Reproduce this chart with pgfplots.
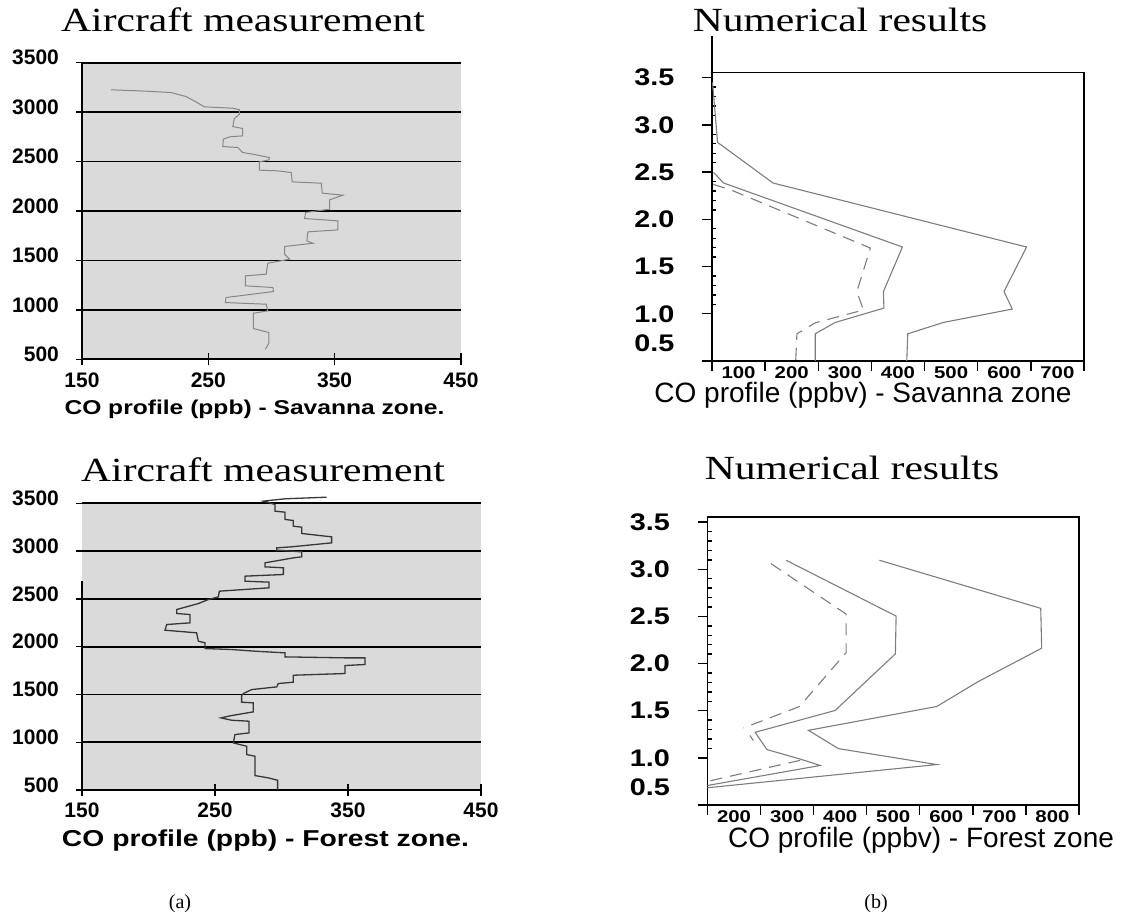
\documentclass[border=0pt]{standalone}
\usepackage{fontspec}
\setmainfont{Liberation Serif}
\newfontfamily\arial{Liberation Sans}
\usepackage{pgfplots}
\pgfplotsset{compat=1.18}
\definecolor{bggrey}{RGB}{218,218,218}
\definecolor{curvegrey}{RGB}{125,125,125}
\definecolor{stepgrey}{RGB}{135,135,135}
\definecolor{stepdark}{RGB}{55,55,55}

\pgfplotsset{
  leftpanel/.style={
    scale only axis, anchor=south west,
    xmin=150, xmax=450, ymin=500, ymax=3500,
    axis background/.style={fill=bggrey},
    axis x line=bottom, axis y line=left,
    axis line style={-, black, line width=0.8pt},
    xtick={150,250,350,450}, xticklabels={150,250,350,450},
    ytick={500,1000,1500,2000,2500,3000,3500},
    yticklabels={500,1000,1500,2000,2500,3000,3500},
    ymajorgrids, grid style={black, line width=0.9pt},
    tick align=center, major tick length=6pt,
    tick style={black, line width=0.7pt},
    ticklabel style={font=\arial\bfseries\fontsize{10.5pt}{12pt}\selectfont},
    yticklabel style={xshift=-5pt, yshift=2.5pt},
    clip=false,
  },
  rightpanel/.style={
    scale only axis, anchor=south west,
    ymin=0.5, ymax=3.555,
    axis line style={black, line width=0.9pt},
    xtick pos=left, ytick pos=left,
    tick align=outside, major tick length=5pt, minor tick length=2pt,
    ytick={1,1.5,2,2.5,3,3.5}, yticklabels={1.0,1.5,2.0,2.5,3.0,3.5},
    minor y tick num=4,
    minor y tick style={xshift=2pt},
    tick style={black, line width=0.7pt},
    yticklabel style={font=\arial\bfseries\fontsize{12pt}{14pt}\selectfont, xscale=1.2, xshift=-8pt},
    xticklabel style={font=\arial\bfseries\fontsize{8.5pt}{10pt}\selectfont, xscale=1.2, inner sep=1pt, yshift=-1.5pt},
    extra y ticks={0.5}, extra y tick labels={0.5},
    extra y tick style={tick label style={yshift=9pt}},
    clip=false,
  },
  curve/.style={color=curvegrey, line width=0.55pt, mark=none, sharp plot},
}

\begin{document}
\begin{tikzpicture}
\path[use as bounding box] (0,0) rectangle (562.5pt,458.5pt);

% titles
\node[anchor=base, inner sep=0pt, xscale=1.23, font=\fontsize{16.9pt}{18pt}\selectfont] at (121.5pt,442.65pt) {Aircraft measurement};
\node[anchor=base, inner sep=0pt, xscale=1.23, font=\fontsize{16.9pt}{18pt}\selectfont] at (420pt,442.65pt) {Numerical results};
\node[anchor=base, inner sep=0pt, xscale=1.23, font=\fontsize{16.9pt}{18pt}\selectfont] at (131.5pt,217.65pt) {Aircraft measurement};
\node[anchor=base, inner sep=0pt, xscale=1.23, font=\fontsize{16.9pt}{18pt}\selectfont] at (426pt,218.5pt) {Numerical results};

% x labels
\node[anchor=base, inner sep=0pt, xscale=1.23, font=\arial\bfseries\fontsize{10pt}{12pt}\selectfont] at (127.25pt,251pt) {CO profile (ppb) - Savanna zone.};
\node[anchor=base, inner sep=0pt, xscale=1.23, font=\arial\bfseries\fontsize{11.5pt}{13pt}\selectfont] at (132.75pt,35.5pt) {CO profile (ppb) - Forest zone.};
\node[anchor=base, inner sep=0pt, font=\arial\fontsize{14pt}{16pt}\selectfont] at (431.5pt,257.4pt) {CO profile (ppbv) - Savanna zone};
\node[anchor=base, inner sep=0pt, font=\arial\fontsize{14pt}{16pt}\selectfont] at (460.5pt,34.8pt) {CO profile (ppbv) - Forest zone};

\node[font=\fontsize{10pt}{12pt}\selectfont] at (90pt,6.5pt) {(a)};
\node[font=\fontsize{10pt}{12pt}\selectfont] at (438pt,6.5pt) {(b)};

% ---------- Panel 1: aircraft, savanna
\begin{axis}[leftpanel, at={(41pt,278.85pt)}, width=189.5pt, height=148.3pt]
\addplot[color=stepgrey, line width=0.5pt, sharp plot] coordinates {
(172.8,3225.5)(195.2,3215.4)(220.4,3198.5)(232.3,3158)(240.2,3104)(246.8,3053.5)
(269.3,3040)(274.6,3023)(274.6,2979)(270.6,2935.5)(269.3,2854.6)(277.2,2834.4)
(277.2,2760)(266.7,2750)(261.9,2726.5)(261.4,2652)(273.3,2642)(277.2,2591.6)
(285.2,2574.7)(298.4,2541)(297.9,2517)(290.5,2497)(290.5,2413)(305,2406)
(315.6,2389)(316.4,2295)(339.4,2281)(340.2,2180)(356.6,2160)(346,2113)
(346,2018)(327,1984.6)(326.2,1924)(352.6,1900)(352.6,1809)(328.8,1789)
(328,1698)(332.8,1674)(310.3,1640.7)(310.3,1563)(314.3,1512.5)(297.1,1472)
(295.8,1361)(279.4,1344)(279.4,1243)(301.1,1226)(301.6,1185.5)(264,1124.8)
(263.5,1074)(295.8,1057)(297.1,990)(285.7,966)(285.7,811)(297.9,771)
(297.9,663)(295.2,602)
};
\end{axis}

% ---------- Panel 2: aircraft, forest
\begin{axis}[leftpanel, at={(41pt,63.5pt)}, width=199.5pt, height=143.35pt,
  y axis line style={draw=none}]
\draw[black, line width=0.8pt] (axis cs:150,500) -- (axis cs:150,2685);
\addplot[color=stepdark, line width=0.65pt, sharp plot] coordinates {
(334,3564)(302.6,3547)(286.3,3522.6)(295.1,3487.7)(295.1,3418)(302.6,3407)
(302.6,3331)(308.9,3320)(308.9,3261)(315.2,3250)(315.2,3184)(337.7,3149)
(337.7,3086)(307.6,3044.6)(296.4,3034)(296.4,3010)(315.2,2992)(315.2,2940)
(308.9,2929)(287.6,2877)(287.6,2835)(301.4,2825)(301.4,2755)(272.6,2737.5)
(272.6,2685)(290.6,2675)(290.6,2615.4)(253.3,2580.5)(252.5,2521)(245,2493)
(237.5,2451)(221.2,2388.6)(221.2,2346.8)(231.2,2336)(231.2,2249)(213.7,2231.6)
(212.4,2172)(236.2,2144.4)(237.5,2057)(242.5,2040)(242.5,1980)(262.5,1970)
(280,1952.5)(302.6,1935)(302.6,1893)(347.7,1882.7)(362.8,1882.7)(362.8,1813)
(347.7,1802.5)(347.7,1718.7)(308.9,1701)(308.9,1628)(297.6,1614)(296.4,1579)
(277.6,1551)(271.3,1509)(270,1488)(270,1418.7)(278.8,1411.7)(278.8,1317.5)
(262.5,1279)(254.5,1254.7)(262.5,1230)(275.6,1219.8)(275.6,1097.7)(265,1080)
(263.8,993)(273.8,958)(273.8,871)(280,853.5)(280,651)(290,627)
(297.1,602)(297.1,504.6)
};
\end{axis}

% ---------- Panel 3: numerical, savanna
\begin{axis}[rightpanel, at={(356pt,278pt)}, width=186pt, height=144.25pt,
  xmin=50, xmax=750,
  xtick={50,150,250,350,450,550,650,750}, xticklabels={,,,,,,,},
  extra x ticks={100,200,300,400,500,600,700},
  extra x tick labels={100,200,300,400,500,600,700},
  extra x tick style={major tick length=0pt}]
\draw[black, line width=0.7pt] (axis cs:50,3.555) -- (axis cs:50,3.94);
\addplot[curve] coordinates {
(51,3.45)(60.5,2.815)(164.7,2.385)(642,1.707)(599.5,1.236)(615,1.05)(485.3,0.908)(418.4,0.788)(416.5,0.5)
};
\addplot[curve] coordinates {
(53,2.497)(71.8,2.385)(408.3,1.707)(372.6,1.235)(373.5,1.06)(281.8,0.908)(244.2,0.788)(244.2,0.5)
};
\addplot[curve, dash pattern=on 6pt off 4pt] coordinates {
(52.4,2.37)(84.4,2.314)(348,1.696)(322.6,1.235)(335,1.04)(244,0.904)(209.8,0.788)(207.5,0.5)
};
\end{axis}

% ---------- Panel 4: numerical, forest
\begin{axis}[rightpanel, at={(353.75pt,56pt)}, width=185.75pt, height=144pt,
  xmin=150, xmax=850,
  xtick={150,250,350,450,550,650,750,850}, xticklabels={,,,,,,,},
  extra x ticks={200,300,400,500,600,700,800},
  extra x tick labels={200,300,400,500,600,700,800},
  extra x tick style={major tick length=0pt}]
\addplot[curve] coordinates {
(473.9,3.096)(777.9,2.586)(779.7,2.163)(660.4,1.81)(582,1.545)(340.2,1.292)(396.7,1.098)(582,0.929)(150,0.683)
};
\addplot[curve] coordinates {
(298.2,3.096)(505.4,2.504)(504,2.103)(390.5,1.503)(239.8,1.271)(261.9,1.088)(327.8,0.982)(362.2,0.919)(150,0.707)
};
\addplot[curve, dash pattern=on 6pt off 4pt] coordinates {
(269.4,3.061)(411.2,2.525)(411.2,2.116)(323.3,1.545)(217.8,1.317)
};
\addplot[curve, dash pattern=on 3pt off 2pt] coordinates {
(230,1.237)(237.5,1.175)
};
\addplot[curve, dash pattern=on 6pt off 4pt] coordinates {
(324.6,0.974)(151.9,0.753)
};
\end{axis}
\end{tikzpicture}
\end{document}
